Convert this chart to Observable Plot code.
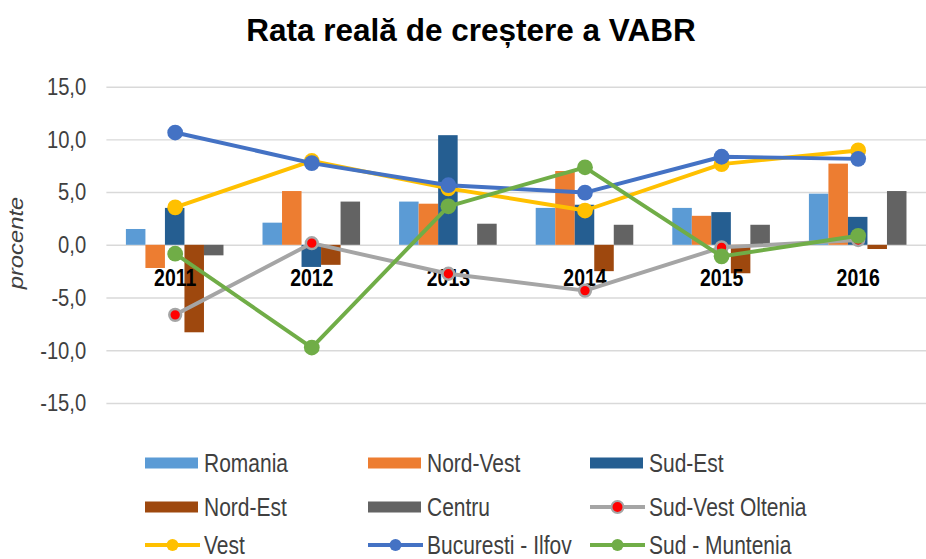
<!DOCTYPE html>
<html>
<head>
<meta charset="utf-8">
<script src="https://cdn.jsdelivr.net/npm/d3@7"></script>
<script src="https://cdn.jsdelivr.net/npm/@observablehq/plot@0.6"></script>
<style>
  html, body { margin: 0; padding: 0; background: #fff; overflow: hidden; }
  #wrap { position: relative; width: 926px; height: 559px; overflow: hidden; background: #fff; }
  #chart { position: absolute; left: 0; top: 0; }
  #over { position: absolute; left: 0; top: 0; }
</style>
</head>
<body>
<div id="wrap">
  <div id="chart"></div>
  <svg id="over" width="926" height="559"></svg>
</div>
<script>
// ---- data ----
const title = "Rata reală de creștere a VABR";
const yLabel = "procente";
const years = [2011, 2012, 2013, 2014, 2015, 2016];
const barSeries = ["Romania", "Nord-Vest", "Sud-Est", "Nord-Est", "Centru"];
const lineSeries = ["Sud-Vest Oltenia", "Vest", "Bucuresti - Ilfov", "Sud - Muntenia"];
const romania     = [1.5, 2.1, 4.1, 3.5, 3.5, 4.85];
const nordVest    = [-2.2, 5.1, 3.9, 7.0, 2.75, 7.7];
const sudEst      = [3.5, -2.1, 10.4, 3.8, 3.1, 2.65];
const nordEst     = [-8.3, -1.9, 0.0, -2.5, -2.7, -0.4];
const centru      = [-1.0, 4.1, 2.0, 1.9, 1.9, 5.1];
const sudVestOlt  = [-6.6, 0.2, -2.7, -4.3, -0.2, 0.5];
const vest        = [3.6, 8.0, 5.4, 3.3, 7.7, 9.0];
const bucuresti   = [10.7, 7.8, 5.7, 5.0, 8.4, 8.2];
const sudMuntenia = [-0.8, -9.7, 3.7, 7.4, -1.05, 0.9];
const yTicks = [-15, -10, -5, 0, 5, 10, 15];

const barColors = ["#5B9BD5", "#ED7D31", "#255E91", "#9E480E", "#636363"];
const lineColors = ["#A5A5A5", "#FFC000", "#4472C4", "#70AD47"];
const svoMarker = "#FF0000";

const regular = "'Liberation Sans', Arial, sans-serif";

// ---- table building ----
const barValues = [romania, nordVest, sudEst, nordEst, centru];
const lineValues = [sudVestOlt, vest, bucuresti, sudMuntenia];
const slots = ["gapL", ...barSeries, "gapR"];
const key = (y, s) => `${y}|${s}`;
const xDomain = years.flatMap(y => slots.map(s => key(y, s)));
const centerSlot = "Sud-Est";

const barRows = barSeries.flatMap((s, i) => years.map((y, j) => ({series: s, year: y, value: barValues[i][j]})));
const lineRows = lineSeries.map((s, i) => years.map((y, j) => ({series: s, year: y, value: lineValues[i][j]})));

const fmt = d => d.toFixed(1).replace(".", ",");
const xc = d => key(d.year, centerSlot);

const marks = [
  Plot.ruleY(yTicks, {stroke: "#d9d9d9", strokeWidth: 1.5}),
  Plot.axisY(yTicks, {tickFormat: fmt, tickSize: 0, tickPadding: 21, fontSize: 25, fill: "#404040", label: null, className: "ytick"}),
  Plot.barY(barRows, {x: d => key(d.year, d.series), y1: 0, y2: "value", fill: "series"}),
  Plot.text(years, {x: y => key(y, centerSlot), y: () => 0, text: d => String(d), dy: 33, fontWeight: "bold", fontSize: 25, fill: "#000", className: "yearlab"})
];
lineRows.forEach((rows, i) => {
  marks.push(Plot.line(rows, {x: xc, y: "value", stroke: lineColors[i], strokeWidth: 4}));
  if (i === 0) {
    marks.push(Plot.dot(rows, {x: xc, y: "value", r: 6, fill: svoMarker, stroke: lineColors[i], strokeWidth: 2.5}));
  } else {
    marks.push(Plot.dot(rows, {x: xc, y: "value", r: 8, fill: lineColors[i]}));
  }
});

const chart = Plot.plot({
  width: 940,
  height: 430,
  marginTop: 88,
  marginBottom: 21,
  marginLeft: 108,
  marginRight: 0,
  x: {type: "band", domain: xDomain, padding: 0, axis: null},
  y: {domain: [-15, 15], axis: null},
  color: {domain: barSeries, range: barColors},
  style: {fontFamily: regular, background: "transparent", overflow: "visible"},
  marks
});
document.getElementById("chart").appendChild(chart);

// condense text horizontally around its anchor (emulates a narrow face)
function condense(sel, sx) {
  sel.each(function() {
    const t = d3.select(this);
    const x = parseFloat(t.attr("x")) || 0;
    const tr = t.attr("transform") || "";
    t.attr("transform", `${tr} translate(${x},0) scale(${sx},1) translate(${-x},0)`);
  });
}
condense(d3.select(chart).selectAll(".ytick text"), 0.82);
condense(d3.select(chart).selectAll(".yearlab text"), 0.79);

// ---- overlay: title, y label, legend ----
const svg = d3.select("#over");
svg.append("text")
  .attr("x", 471).attr("y", 41)
  .attr("text-anchor", "middle")
  .attr("font-family", regular)
  .attr("font-weight", "bold")
  .attr("font-size", 31.5)
  .attr("fill", "#000")
  .text(title);

svg.append("text")
  .attr("transform", "translate(23,243) rotate(-90) scale(1.19,1)")
  .attr("text-anchor", "middle")
  .attr("font-family", regular)
  .attr("font-style", "italic")
  .attr("font-size", 20)
  .attr("fill", "#404040")
  .text(yLabel);

const rowsY = [463, 507, 545];
const colsX = [145, 368, 590];
const legendItems = [
  ...barSeries.map((s, i) => ({name: s, type: "bar", color: barColors[i]})),
  ...lineSeries.map((s, i) => ({name: s, type: "line", color: lineColors[i], marker: i === 0 ? svoMarker : lineColors[i]}))
];
legendItems.forEach((it, k) => {
  const x = colsX[k % 3], y = rowsY[Math.floor(k / 3)];
  const g = svg.append("g");
  if (it.type === "bar") {
    g.append("rect").attr("x", x).attr("y", y - 5.5).attr("width", 53).attr("height", 11).attr("fill", it.color);
  } else {
    g.append("line").attr("x1", x).attr("x2", x + 55).attr("y1", y).attr("y2", y)
      .attr("stroke", it.color).attr("stroke-width", 4);
    g.append("circle").attr("cx", x + 27.5).attr("cy", y).attr("r", 6)
      .attr("fill", it.marker).attr("stroke", it.color).attr("stroke-width", it.marker === it.color ? 0 : 2);
  }
  g.append("text")
    .attr("transform", `translate(${x + 59},${y}) scale(0.84,1)`)
    .attr("dy", "0.35em")
    .attr("font-family", regular).attr("font-size", 25).attr("fill", "#404040")
    .text(it.name);
});
</script>
</body>
</html>
